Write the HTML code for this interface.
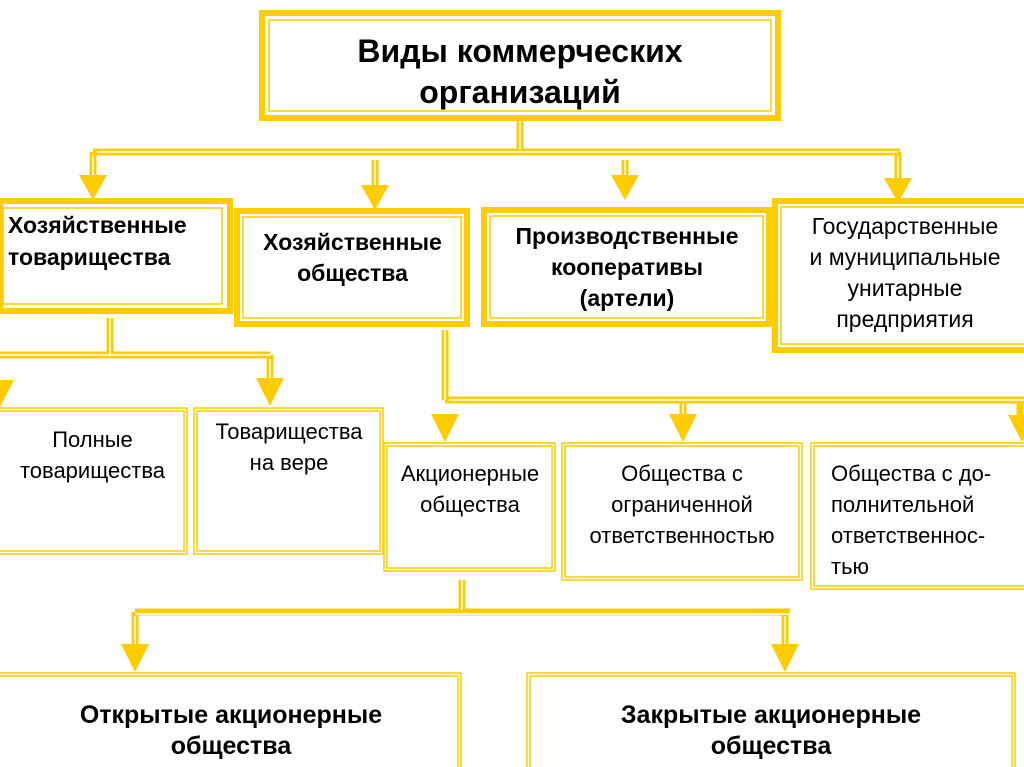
<!DOCTYPE html>
<html><head><meta charset="utf-8"><style>
body{margin:0;width:1024px;height:767px;overflow:hidden;background:#fff;position:relative;font-family:"Liberation Sans","DejaVu Sans",sans-serif}
.t{position:absolute;text-align:center;color:#000;white-space:nowrap}
.b{font-weight:bold}
svg{position:absolute;left:0;top:0}
</style></head><body>
<svg width="1024" height="767" viewBox="0 0 1024 767">
<g fill="none" stroke="#FFCC00">
<rect x="262" y="13" width="516" height="105" stroke-width="6"/>
<rect x="269" y="20" width="502" height="91" stroke-width="1.5"/>
<rect x="0" y="201" width="230" height="110" stroke-width="6"/>
<rect x="3" y="208" width="219" height="96" stroke-width="1.5"/>
<rect x="237" y="211" width="230" height="113" stroke-width="6"/>
<rect x="243" y="217" width="218" height="101" stroke-width="1.5"/>
<rect x="484" y="210" width="285" height="114" stroke-width="6"/>
<rect x="490" y="216" width="273" height="102" stroke-width="1.5"/>
<rect x="775" y="201" width="255" height="149" stroke-width="6"/>
<rect x="781" y="207" width="250" height="137" stroke-width="1.5"/>
<g stroke-width="1.5">
<rect x="-5" y="408" width="192" height="146"/><rect x="-5" y="411" width="189" height="140"/>
<rect x="194" y="408" width="189" height="146"/><rect x="197" y="411" width="183" height="140"/>
<rect x="384" y="443" width="171" height="128"/><rect x="387" y="446" width="165" height="122"/>
<rect x="562" y="443" width="240" height="137"/><rect x="565" y="446" width="234" height="131"/>
<rect x="811" y="443" width="220" height="146"/><rect x="814" y="446" width="220" height="140"/>
<rect x="-5" y="673" width="466" height="100"/><rect x="-5" y="676" width="463" height="100"/>
<rect x="527" y="673" width="488" height="100"/><rect x="530" y="676" width="482" height="100"/>
</g>
<g stroke-width="7">
<path d="M520 121V152M93 152H900M93 152V180M375 160V190M625 160V180M898 152V183"/>
<path d="M110 318V355M0 355H270M270 355V380M445 330V400M445 400H1024M683 400V418M1020 400V420"/>
<path d="M462 580V612M135 612H790M135 612V650M785 612V650"/>
</g>
<g stroke="#fff" stroke-width="1.5">
<path d="M520 121V150M97 152H898M93 156V180M375 160V190M625 160V180M898 156V183"/>
<path d="M110 318V355M0 355H270M270 359V380M445 330V400M449 400H1024M683 404V418"/>
<path d="M462 580V610M135 614H790M135 616V650M785 616V650"/>
</g>
</g>
<g fill="#FFCC00">
<path d="M79 175H107L93 200Z"/><path d="M361 185H389L375 210Z"/><path d="M611 175H639L625 200Z"/><path d="M884 178H912L898 203Z"/>
<path d="M-14 380H14L0 407Z"/><path d="M256 378H284L270 406Z"/>
<path d="M431 414H459L445 442Z"/><path d="M669 414H697L683 442Z"/><path d="M1008 415H1036L1022 442Z"/>
<path d="M121 644H149L135 672Z"/><path d="M771 644H799L785 672Z"/>
</g>
</svg>
<div class="t b" style="left:270px;top:31px;width:500px;font-size:32px;line-height:41px">Виды коммерческих<br>организаций</div>
<div class="t b" style="left:8px;top:209px;text-align:left;font-size:23px;line-height:32px">Хозяйственные<br>товарищества</div>
<div class="t b" style="left:240px;top:227px;width:225px;font-size:23px;line-height:31px">Хозяйственные<br>общества</div>
<div class="t b" style="left:487px;top:221px;width:280px;font-size:23px;line-height:31px">Производственные<br>кооперативы<br>(артели)</div>
<div class="t" style="left:780px;top:211px;width:250px;font-size:23px;line-height:31px">Государственные<br>и муниципальные<br>унитарные<br>предприятия</div>
<div class="t" style="left:0px;top:424px;width:185px;font-size:22px;line-height:31px">Полные<br>товарищества</div>
<div class="t" style="left:194px;top:416px;width:190px;font-size:22px;line-height:31px">Товарищества<br>на вере</div>
<div class="t" style="left:384px;top:458px;width:172px;font-size:22px;line-height:31px">Акционерные<br>общества</div>
<div class="t" style="left:562px;top:458px;width:240px;font-size:22px;line-height:31px">Общества с<br>ограниченной<br>ответственностью</div>
<div class="t" style="left:831px;top:458px;text-align:left;font-size:22px;line-height:31px">Общества с до-<br>полнительной<br>ответственнос-<br>тью</div>
<div class="t b" style="left:0;top:700px;width:462px;font-size:25px;line-height:31px">Открытые акционерные<br>общества</div>
<div class="t b" style="left:527px;top:700px;width:488px;font-size:25px;line-height:31px">Закрытые акционерные<br>общества</div>
</body></html>
